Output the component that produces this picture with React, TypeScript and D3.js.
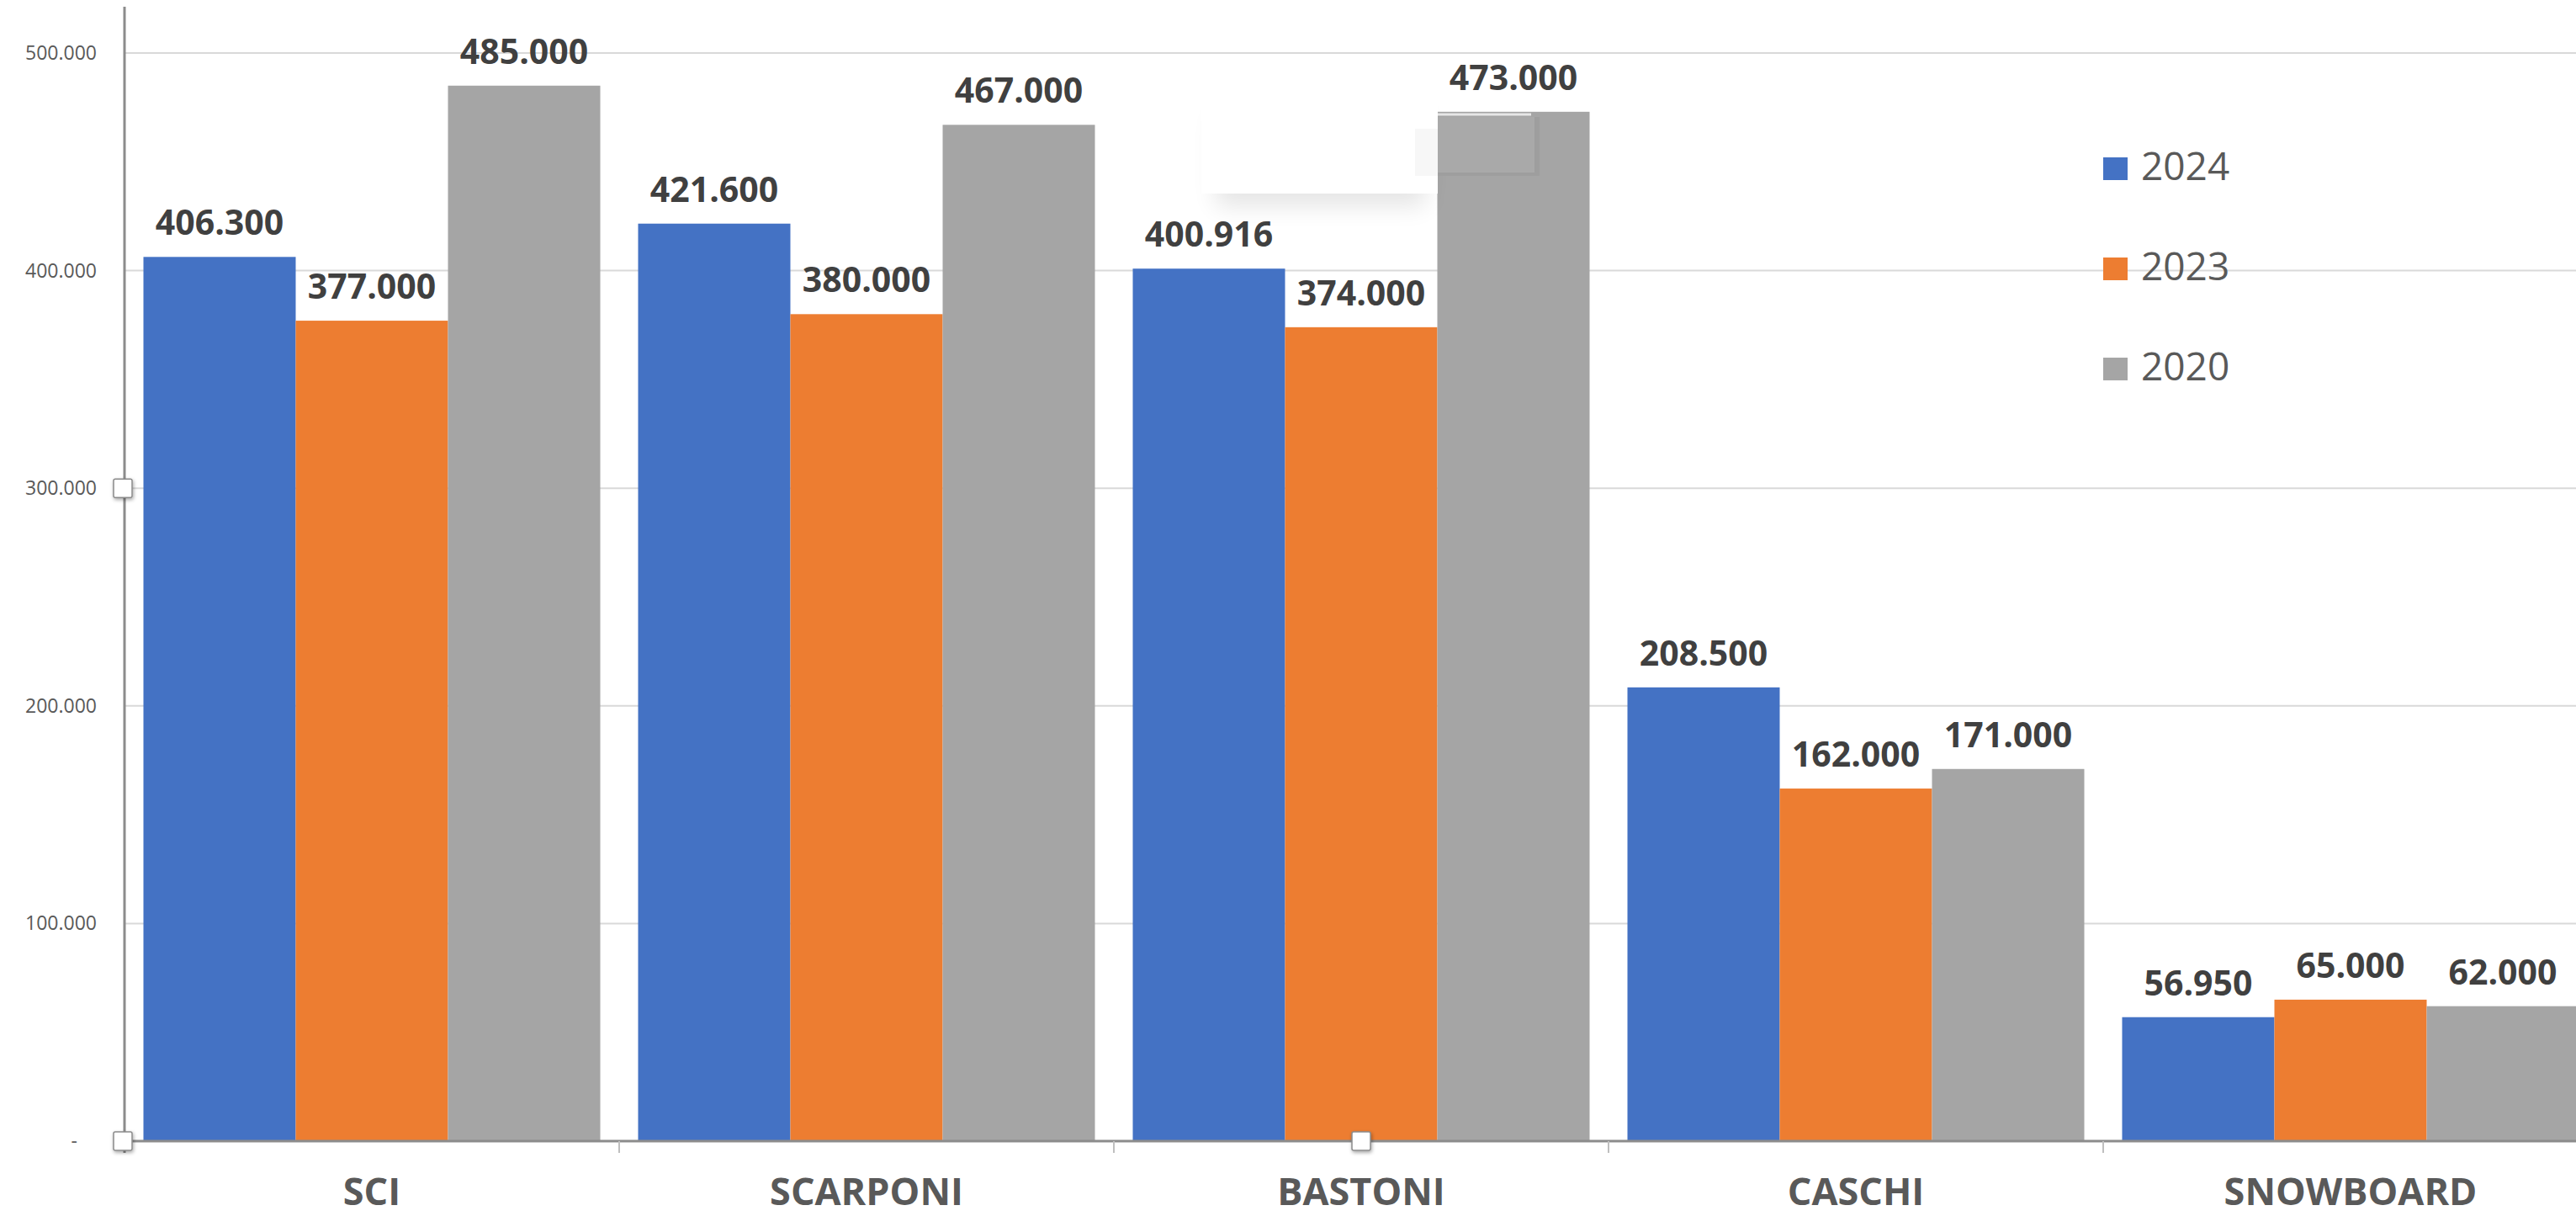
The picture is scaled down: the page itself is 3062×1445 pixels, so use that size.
import React from "react";
import * as d3 from "d3";

const categories = ["SCI", "SCARPONI", "BASTONI", "CASCHI", "SNOWBOARD"];
const seriesNames = ["2024", "2023", "2020"];
const values2024 = [406300, 421600, 400916, 208500, 56950];
const values2023 = [377000, 380000, 374000, 162000, 65000];
const values2020 = [485000, 467000, 473000, 171000, 62000];
const yTicks = [0, 100000, 200000, 300000, 400000, 500000];
const colors = ["#4472C4", "#ED7D31", "#A5A5A5"];

const W = 3062;
const H = 1445;
const left = 148;
const step = 588;
const y0 = 1356;
const yTop = 63;

const locale = d3.formatLocale({ decimal: ",", thousands: ".", grouping: [3], currency: ["€", ""] });
const fmt = locale.format(",.0f");
const tickFmt = (v: number) => (v === 0 ? "-" : locale.format(",.3f")(v / 1000).replace(/,/g, "."));

export default function App() {
  const seriesValues = [values2024, values2023, values2020];
  const x0 = d3
    .scaleBand<string>()
    .domain(categories)
    .range([left, left + step * categories.length])
    .paddingInner(0.0765)
    .paddingOuter(0.03825);
  const x1 = d3.scaleBand<string>().domain(seriesNames).range([0, x0.bandwidth()]).padding(0);
  const y = d3.scaleLinear().domain([0, 500000]).range([y0, yTop]);
  const font = "'Open Sans', 'DejaVu Sans', sans-serif";

  const boundaries = categories.slice(1).map((c) => (x0(c) as number) - (step - x0.bandwidth()) / 2);

  return (
    <svg
      width={W}
      height={H}
      style={{ position: "absolute", left: 0, top: 0, display: "block", background: "#fff" }}
      fontFamily={font}
    >
      <defs>
        <filter id="blur" x="-50%" y="-50%" width="200%" height="200%">
          <feGaussianBlur stdDeviation="14" />
        </filter>
        <filter id="hshadow" x="-50%" y="-50%" width="200%" height="200%">
          <feDropShadow dx="1" dy="2" stdDeviation="2" floodColor="#000" floodOpacity="0.35" />
        </filter>
      </defs>
      <rect x={0} y={0} width={W} height={H} fill="#fff" />

      {/* gridlines */}
      {yTicks.slice(1).map((t) => (
        <line key={t} x1={left} x2={W} y1={y(t)} y2={y(t)} stroke="#d9d9d9" strokeWidth={2} />
      ))}

      {/* y tick labels */}
      {yTicks.map((t) => (
        <text
          key={"l" + t}
          x={t === 0 ? 92 : 115}
          y={y(t) + 8}
          textAnchor="end"
          fontSize={23}
          fill="#595959"
        >
          {tickFmt(t)}
        </text>
      ))}

      {/* bars */}
      {categories.map((c, i) => (
        <g key={c} transform={`translate(${x0(c)},0)`}>
          {seriesNames.map((s, j) => (
            <rect
              key={s}
              x={x1(s)}
              y={y(seriesValues[j][i])}
              width={x1.bandwidth()}
              height={y0 - y(seriesValues[j][i])}
              fill={colors[j]}
            />
          ))}
        </g>
      ))}

      {/* artifact near BASTONI 2020 */}
      <g>
        <rect x={1445} y={135} width={250} height={110} fill="#000" opacity={0.1} filter="url(#blur)" />
        <rect x={1428} y={107} width={281} height={123} fill="#fff" />
        <rect x={1682} y={153} width={27} height={56} fill="#f7f7f7" />
        <rect x={1709} y={139} width={121} height={70} fill="#9e9e9e" />
        <rect x={1709} y={139} width={115} height={66} fill="#a9a9a9" />
        <line x1={1709} x2={1820} y1={136} y2={136} stroke="#e6e6e6" strokeWidth={3} />
      </g>

      {/* value labels */}
      {categories.map((c, i) =>
        seriesNames.map((s, j) => (
          <text
            key={c + s}
            x={(x0(c) as number) + (x1(s) as number) + x1.bandwidth() / 2}
            y={y(seriesValues[j][i]) - 26}
            textAnchor="middle"
            fontSize={41}
            fontWeight={700}
            fill="#404040"
          >
            {fmt(seriesValues[j][i])}
          </text>
        ))
      )}

      {/* axes */}
      <line x1={left} x2={left} y1={8} y2={1370} stroke="#8c8c8c" strokeWidth={3} />
      <line x1={left} x2={W} y1={y0} y2={y0} stroke="#8c8c8c" strokeWidth={3} />
      {boundaries.map((b) => (
        <line key={b} x1={b} x2={b} y1={y0} y2={y0 + 14} stroke="#bfbfbf" strokeWidth={2} />
      ))}

      {/* category labels */}
      {categories.map((c) => (
        <text
          key={"c" + c}
          x={(x0(c) as number) + x0.bandwidth() / 2}
          y={1432}
          textAnchor="middle"
          fontSize={45}
          fontWeight={700}
          fill="#595959"
        >
          {c}
        </text>
      ))}

      {/* legend */}
      {seriesNames.map((s, j) => (
        <g key={"lg" + s} transform={`translate(2500, ${187 + j * 119})`}>
          <rect x={0} y={0} width={29} height={27} fill={colors[j]} />
          <text x={45} y={27} fontSize={46} fill="#595959">
            {s}
          </text>
        </g>
      ))}

      {/* selection handles */}
      {[
        [left - 2, y(300000)],
        [left - 2, y0],
        [(x0("BASTONI") as number) + x0.bandwidth() / 2, y0],
      ].map(([hx, hy], k) => (
        <rect
          key={"h" + k}
          x={hx - 11}
          y={hy - 11}
          width={22}
          height={22}
          rx={2}
          fill="#fff"
          stroke="#8a8a8a"
          strokeWidth={1.5}
          filter="url(#hshadow)"
        />
      ))}
    </svg>
  );
}
